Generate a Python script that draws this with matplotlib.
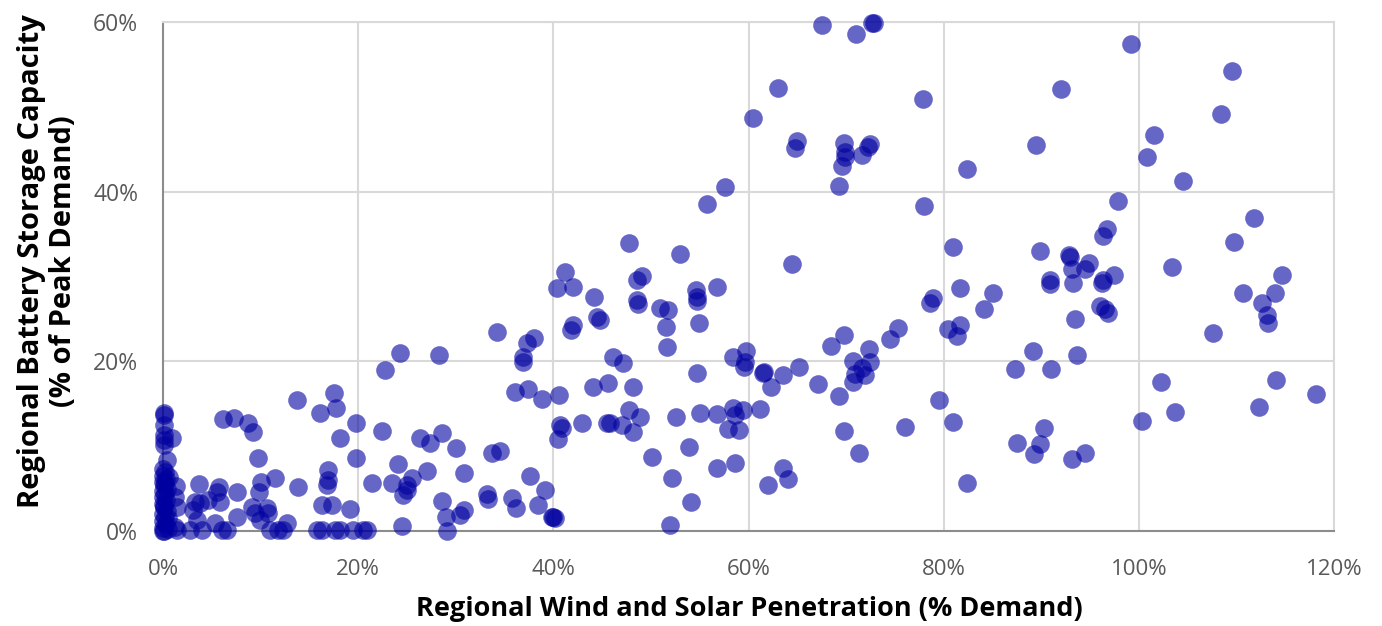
import matplotlib.pyplot as plt
from matplotlib.ticker import PercentFormatter

# Regional wind + solar penetration (% demand) vs battery storage (% peak demand)
# values, grouped roughly left to right
pen_near_zero = [0.1, 0.1, 0.1, 0.1, 0.9, 0.1, 0.1, 0.4, 0.0, 0.2, 0.0, 0.3, 0.0, 0.1, 0.4, 0.0,
                 0.2, 0.0, 0.3, 0.0, 0.1, 0.4, 0.0, 0.2, 0.0, 0.3, 0.0, 0.1, 0.5, 0.0, 0.2, 0.1,
                 0.6, 0.5]
bat_near_zero = [13.9, 13.7, 12.5, 11.3, 11.0, 10.7, 10.1, 8.4, 7.3, 6.9, 6.5, 6.1, 5.8, 5.4, 5.0, 4.7,
                 4.3, 4.0, 3.6, 3.2, 2.8, 2.4, 2.0, 1.6, 1.2, 0.8, 0.4, 0.0, 0.2, 0.0, 5.6, 3.0,
                 6.4, 1.5]

pen_low = [1.3, 1.2, 1.4, 1.2, 1.4, 2.8, 4.0, 6.0, 6.6, 3.1, 3.5, 5.3, 3.3, 3.8, 4.6, 5.8,
           3.7, 5.7, 5.5, 7.6, 9.8, 10.0, 11.5, 9.7, 9.2, 8.7, 7.3, 6.1, 7.6, 9.1, 9.4, 10.7,
           10.8, 9.9, 11.0, 11.8, 12.7, 12.3, 13.7, 16.1, 17.5, 17.7, 19.8, 18.1, 19.8, 13.8,
           16.9, 16.9, 16.8, 16.3, 17.3, 19.2, 15.8, 16.3, 17.6, 18.1, 19.5, 20.5, 20.9,
           22.7, 24.3, 22.4, 21.4, 23.5, 24.1, 25.0, 24.6, 24.5]
bat_low = [5.3, 4.0, 2.8, 0.5, 0.1, 0.1, 0.1, 0.1, 0.1, 2.5, 1.3, 0.9, 3.4, 3.3, 3.7, 3.4,
           5.5, 5.2, 4.6, 4.6, 4.6, 5.8, 6.2, 8.6, 11.7, 12.7, 13.3, 13.2, 1.7, 2.8, 2.1, 2.7,
           2.1, 1.3, 0.1, 0.1, 0.9, 0.1, 15.4, 13.9, 16.3, 14.5, 12.7, 11.0, 8.6, 5.2,
           7.2, 6.0, 5.4, 3.1, 3.1, 2.6, 0.1, 0.1, 0.1, 0.1, 0.1, 0.1, 0.1,
           19.0, 21.0, 11.8, 5.7, 5.7, 7.9, 5.4, 4.2, 0.6]

pen_mid = [28.3, 26.3, 27.4, 28.6, 30.0, 33.7, 34.5, 27.0, 30.8, 25.5, 25.0,
           33.2, 33.3, 35.8, 36.2, 37.6, 39.1, 38.4, 28.6, 29.0, 30.4, 30.8, 29.1, 39.9, 40.2, 40.0,
           34.2, 37.3, 38.0, 36.9, 36.9, 36.1, 37.4, 38.8, 40.6,
           41.2, 40.4, 42.0, 44.2, 44.5, 44.8, 42.0, 41.8, 48.6, 48.6, 48.7,
           46.1, 47.1, 44.1, 45.6, 48.2,
           40.7, 40.9, 40.5, 42.9, 45.5, 45.8, 47.0, 48.2,
           47.7, 53.0, 49.1, 56.8, 54.6, 54.7, 54.7,
           50.9, 51.7, 51.5, 51.6, 54.9, 54.7]
bat_mid = [20.8, 11.0, 10.4, 11.6, 9.8, 9.2, 9.4, 7.1, 6.8, 6.2, 4.8,
           4.4, 3.8, 3.9, 2.7, 6.5, 4.8, 3.1, 3.5, 1.7, 1.9, 2.5, 0.0, 1.7, 1.5, 1.6,
           23.5, 22.2, 22.8, 20.5, 19.9, 16.4, 16.7, 15.6, 16.0,
           30.5, 28.7, 28.8, 27.6, 25.2, 24.9, 24.3, 23.7, 29.6, 27.2, 26.8,
           20.5, 19.8, 17.0, 17.5, 17.0,
           12.5, 12.1, 10.8, 12.7, 12.7, 12.7, 12.5, 11.7,
           34.0, 32.7, 30.0, 28.8, 28.4, 27.6, 27.1,
           26.3, 26.1, 24.0, 21.7, 24.5, 18.6]

pen_upper = [58.4, 59.7, 59.6, 59.5, 61.5, 61.6, 62.3, 63.5, 65.2, 67.1, 68.4, 69.8, 70.7,
             72.3, 72.4, 71.6, 70.9, 71.9, 70.7, 69.3, 74.5, 75.3, 76.0, 69.8, 71.3,
             47.7, 48.9, 52.6, 55.0, 56.8, 58.4, 58.6, 59.4, 57.9, 59.0, 61.2, 53.9, 50.1,
             56.8, 58.6, 52.2, 63.5, 64.0, 62.0, 54.1, 51.9,
             55.7, 57.6, 60.5, 63.0, 64.5,
             67.5, 71.0, 72.9, 72.7, 65.0, 64.8, 69.8, 69.9, 69.9, 71.6, 72.4, 72.2, 69.6, 69.3]
bat_upper = [20.5, 21.2, 19.9, 19.3, 18.6, 18.7, 17.0, 18.4, 19.3, 17.3, 21.8, 23.1, 20.0,
             21.5, 19.9, 19.2, 18.5, 18.4, 17.6, 15.9, 22.6, 23.9, 12.3, 11.8, 9.2,
             14.3, 13.4, 13.4, 13.9, 13.8, 14.5, 13.7, 14.3, 12.0, 11.9, 14.4, 9.9, 8.7,
             7.4, 8.0, 6.2, 7.4, 6.1, 5.4, 3.4, 0.7,
             38.6, 40.6, 48.7, 52.2, 31.5,
             59.7, 58.6, 59.9, 59.9, 46.0, 45.2, 45.7, 44.7, 44.1, 44.3, 45.6, 45.3, 43.0, 40.7]

pen_high = [77.9, 78.0, 82.4, 81.0,
            81.7, 85.1, 78.9, 78.6, 84.1, 80.4, 81.7, 81.4, 79.5, 80.9, 82.4,
            87.3, 91.0, 89.2, 93.7, 87.5, 89.9, 89.3, 94.5, 93.1, 90.3,
            89.5, 92.0, 89.9, 92.8, 92.9, 94.9, 93.1, 94.5, 90.9, 90.9, 93.2, 93.5,
            96.3, 96.2, 97.5, 96.0, 96.5, 96.8, 96.7, 96.3, 97.9, 99.2,
            101.6, 100.8, 104.5, 103.4, 102.3, 103.7, 100.3,
            109.5, 108.4, 111.8, 109.7, 114.7, 110.7, 113.9, 112.6, 113.1, 113.2, 107.6,
            114.1, 118.2, 112.3]
bat_high = [50.9, 38.3, 42.7, 33.5,
            28.7, 28.0, 27.5, 26.9, 26.2, 23.8, 24.3, 23.0, 15.4, 12.9, 5.7,
            19.1, 19.1, 21.2, 20.8, 10.4, 10.3, 9.1, 9.2, 8.5, 12.1,
            45.5, 52.1, 33.0, 32.5, 32.3, 31.6, 30.9, 30.9, 29.6, 29.1, 29.2, 25.0,
            29.6, 29.2, 30.2, 26.5, 26.2, 25.7, 35.6, 34.8, 38.9, 57.4,
            46.7, 44.1, 41.2, 31.1, 17.6, 14.0, 13.0,
            54.2, 49.2, 36.9, 34.1, 30.2, 28.1, 28.0, 26.9, 25.4, 24.5, 23.3,
            17.8, 16.2, 14.6]

penetration = pen_near_zero + pen_low + pen_mid + pen_upper + pen_high
battery = bat_near_zero + bat_low + bat_mid + bat_upper + bat_high

x_ticks = [0, 20, 40, 60, 80, 100, 120]
y_ticks = [0, 20, 40, 60]

fig = plt.figure(figsize=(13.82, 6.26), dpi=100)
ax = fig.add_axes([0.118, 0.1518, 0.8473, 0.8131])

ax.scatter(penetration, battery, s=180, color='#0000A0', alpha=0.6,
           linewidths=0, zorder=3, clip_on=False)

ax.set_xlim(0, 120)
ax.set_ylim(0, 60)
ax.set_xticks(x_ticks)
ax.set_yticks(y_ticks)
ax.xaxis.set_major_formatter(PercentFormatter(decimals=0))
ax.yaxis.set_major_formatter(PercentFormatter(decimals=0))

ax.grid(True, color='#d9d9d9', linewidth=1.5, zorder=0)
ax.set_axisbelow(True)
for side in ['top', 'right']:
    ax.spines[side].set_color('#d9d9d9')
    ax.spines[side].set_linewidth(1.5)
for side in ['left', 'bottom']:
    ax.spines[side].set_color('#8c8c8c')
    ax.spines[side].set_linewidth(1.5)

ax.tick_params(axis='both', length=0, labelcolor='#595959')
ax.tick_params(axis='x', pad=20, labelsize=16)
ax.tick_params(axis='y', pad=18, labelsize=16.5)
for lab in ax.get_xticklabels() + ax.get_yticklabels():
    lab.set_family(['Open Sans', 'DejaVu Sans'])

ax.set_xlabel('Regional Wind and Solar Penetration (% Demand)', fontsize=19.5,
              fontweight='bold', family=['Open Sans', 'DejaVu Sans'])
ax.xaxis.set_label_coords(0.501, -0.128)
ax.set_ylabel('Regional Battery Storage Capacity\n(% of Peak Demand)', fontsize=21,
              fontweight='bold', family=['Open Sans', 'DejaVu Sans'], linespacing=1.1)
ax.yaxis.set_label_coords(-0.073, 0.53)

fig.savefig('out.png', dpi=100)
